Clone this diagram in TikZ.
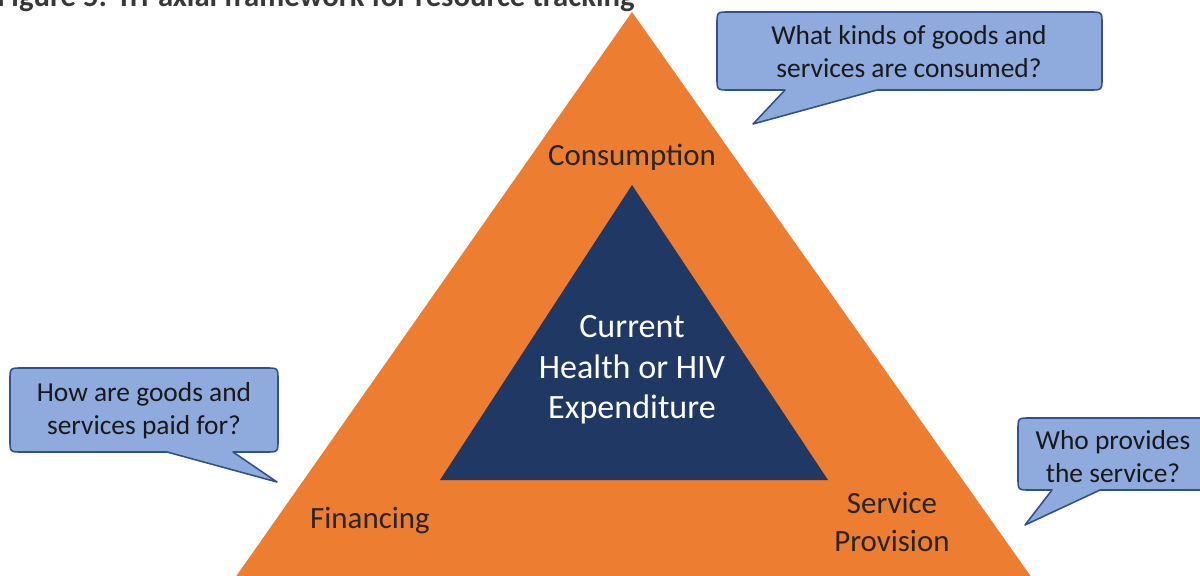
\documentclass[tikz,border=0pt]{standalone}
\usepackage{fontspec}
\setmainfont{Carlito}
\definecolor{axisorange}{HTML}{ED7D31}
\definecolor{corenavy}{HTML}{203864}
\definecolor{bubblefill}{HTML}{8FAADC}
\definecolor{bubbleline}{HTML}{2F528F}
\tikzset{
x=0.02cm, y=-0.02cm, % one unit is one pixel, y grows downwards
bubble/.style={fill=bubblefill, draw=bubbleline, line width=0.9pt, line join=round}, % speech bubbles
bubble text/.style={font=\fontsize{15.6}{18.7}\selectfont, align=center, text=black!90},
axis label/.style={font=\fontsize{17.6}{21.5}\selectfont, align=center, text=black!85},
core label/.style={font=\fontsize{19.4}{23}\selectfont, align=center, text=white},
}

\begin{document}
\begin{tikzpicture}
    \useasboundingbox (0,0) rectangle (1200,575);
    \clip (0,0) rectangle (1200,575);
    % caption, only its lower half is on the page
    \node[anchor=base west, inner sep=0, font=\bfseries\fontsize{17.5}{20}\selectfont, text=black!78] (caption) at (-3,6) {Figure 5: Tri-axial framework for resource tracking};
    % the three axes and the core
    \fill[axisorange] (632,12) -- (1044,595) -- (223,595) -- cycle;
    \fill[corenavy] (632,185) -- (828,480) -- (440,480) -- cycle;
    \node[axis label] (cons) at (632,157) {Consumption};
    \node[axis label] (fin) at (370,521) {Financing};
    \node[axis label] (prov) at (892,522) {Service\\Provision};
    \node[core label] (core) at (632,370) {Current\\Health or HIV\\Expenditure};
    % speech bubbles
    \draw[bubble] (729,12) -- (1090,12) .. controls (1102,12) .. (1102,24) -- (1102,78)
        .. controls (1102,90) .. (1090,90) -- (877,90) -- (753,124) -- (785,90) -- (729,90)
        .. controls (717,90) .. (717,78) -- (717,24) .. controls (717,12) .. (729,12) -- cycle;
    \draw[bubble] (22,368) -- (266,368) .. controls (278,368) .. (278,380) -- (278,440)
        .. controls (278,452) .. (266,452) -- (233,452) -- (277,482) -- (167,452) -- (22,452)
        .. controls (10,452) .. (10,440) -- (10,380) .. controls (10,368) .. (22,368) -- cycle;
    \draw[bubble] (1030,418) -- (1196,418) .. controls (1208,418) .. (1208,430) -- (1208,478)
        .. controls (1208,490) .. (1196,490) -- (1100,490) -- (1025,525) -- (1052,490) -- (1030,490)
        .. controls (1018,490) .. (1018,478) -- (1018,430) .. controls (1018,418) .. (1030,418) -- cycle;
    \node[bubble text] (qcons) at (909,52) {What kinds of goods and\\services are consumed?};
    \node[bubble text] (qfin) at (144,411) {How are goods and\\services paid for?};
    \node[bubble text] (qprov) at (1113,457) {Who provides\\the service?};
\end{tikzpicture}
\end{document}
